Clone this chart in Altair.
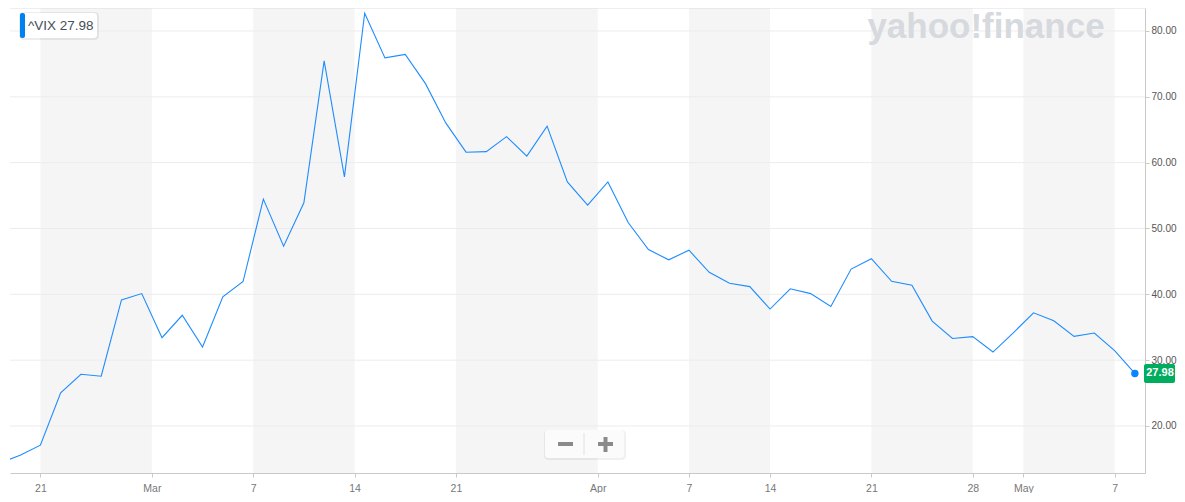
import altair as alt
import pandas as pd

# ---- data (VIX daily closes) ----
dates = [
    "2020-02-19", "2020-02-20", "2020-02-21", "2020-02-24", "2020-02-25",
    "2020-02-26", "2020-02-27", "2020-02-28", "2020-03-02", "2020-03-03",
    "2020-03-04", "2020-03-05", "2020-03-06", "2020-03-09", "2020-03-10",
    "2020-03-11", "2020-03-12", "2020-03-13", "2020-03-16", "2020-03-17",
    "2020-03-18", "2020-03-19", "2020-03-20", "2020-03-23", "2020-03-24",
    "2020-03-25", "2020-03-26", "2020-03-27", "2020-03-30", "2020-03-31",
    "2020-04-01", "2020-04-02", "2020-04-03", "2020-04-06", "2020-04-07",
    "2020-04-08", "2020-04-09", "2020-04-13", "2020-04-14", "2020-04-15",
    "2020-04-16", "2020-04-17", "2020-04-20", "2020-04-21", "2020-04-22",
    "2020-04-23", "2020-04-24", "2020-04-27", "2020-04-28", "2020-04-29",
    "2020-04-30", "2020-05-01", "2020-05-04", "2020-05-05", "2020-05-06",
    "2020-05-07", "2020-05-08",
]
vix = [
    14.38, 15.56, 17.08, 25.03, 27.85,
    27.56, 39.16, 40.11, 33.42, 36.82,
    31.99, 39.62, 41.94, 54.46, 47.30,
    53.90, 75.47, 57.83, 82.69, 75.91,
    76.45, 72.00, 66.04, 61.59, 61.67,
    63.95, 61.00, 65.54, 57.08, 53.54,
    57.06, 50.91, 46.80, 45.24, 46.70,
    43.35, 41.67, 41.17, 37.76, 40.84,
    40.11, 38.15, 43.83, 45.41, 41.98,
    41.38, 35.93, 33.29, 33.57, 31.23,
    34.15, 37.19, 35.97, 33.61, 34.12,
    31.44, 27.98,
]
symbol = "^VIX"
tick_dates = [
    "2020-02-21", "2020-03-01", "2020-03-07", "2020-03-14", "2020-03-21",
    "2020-04-01", "2020-04-07", "2020-04-14", "2020-04-21", "2020-04-28",
    "2020-05-01", "2020-05-07",
]
tick_labels = ["21", "Mar", "7", "14", "21", "Apr", "7", "14", "21", "28", "May", "7"]
y_ticks = [20, 30, 40, 50, 60, 70, 80]


# ---- derived tables ----
def tick_pos(d):
    # trading-day axis: a date that trades sits on its point, otherwise between sessions
    if d in dates and not d.endswith("-01"):
        return float(dates.index(d))
    return sum(1 for x in dates if x < d) - 0.5


tpos = [tick_pos(d) for d in tick_dates]
df = pd.DataFrame({"i": list(range(len(dates))), "date": dates, "vix": vix})
last = df.tail(1)
bands = pd.DataFrame({"x0": tpos[0::2], "x1": tpos[1::2]})
grid = pd.DataFrame({"v": y_ticks})

W, H = 1135, 465
xs = alt.Scale(domain=[0.5, len(dates) - 0.5], nice=False, zero=False)
ys = alt.Scale(domain=[12.86, 83.49], nice=False, zero=False)

label_expr = (
    "[" + ",".join("'%s'" % t for t in tick_labels) + "]"
    + "[indexof([" + ",".join(repr(p) for p in tpos) + "], datum.value)]"
)

FONT = "Liberation Sans"
AX = "#c9c9c9"

x_axis = alt.Axis(
    values=tpos, labelExpr=label_expr, grid=False, title=None,
    domainColor=AX, tickColor=AX, tickSize=4, labelPadding=6,
    labelColor="#777777", labelFontSize=10.5, labelFont=FONT,
    labelFlush=False, labelOverlap=False,
)
y_axis = alt.Axis(
    orient="right", values=y_ticks, format=".2f", grid=False, title=None,
    domainColor=AX, tickColor=AX, tickSize=4, labelPadding=2,
    labelColor="#555555", labelFontSize=10, labelFont=FONT,
)

band_layer = alt.Chart(bands).mark_rect(color="#f5f5f5").encode(
    x=alt.X("x0:Q", scale=xs, axis=x_axis), x2="x1:Q",
    y=alt.value(0), y2=alt.value(H),
)
grid_layer = alt.Chart(grid).mark_rule(color="#ececec", strokeWidth=1).encode(
    y=alt.Y("v:Q", scale=ys, axis=y_axis)
)
top_line = alt.Chart(grid.head(1)).mark_rule(color="#dddbe7", strokeWidth=1).encode(
    y=alt.value(0)
)

watermark = alt.Chart(pd.DataFrame({"t": ["yahoo!finance"]})).mark_text(
    font=FONT, fontSize=35, fontWeight="bold", color="#d6d9de",
    align="center", baseline="alphabetic",
).encode(x=alt.value(976), y=alt.value(30), text="t:N")

line = alt.Chart(df).mark_line(color="#1e8cff", strokeWidth=1.1, clip=True).encode(
    x=alt.X("i:Q", scale=xs, axis=x_axis),
    y=alt.Y("vix:Q", scale=ys, axis=y_axis),
)
dot = alt.Chart(last).mark_point(filled=True, size=55, color="#0a84ff", opacity=1).encode(
    x=alt.X("i:Q", scale=xs, axis=x_axis), y=alt.Y("vix:Q", scale=ys, axis=y_axis)
)
badge = alt.Chart(last).mark_rect(color="#00ad5f", cornerRadius=2, yOffset=-9.5, y2Offset=9.5).encode(
    x=alt.value(1134), x2=alt.value(1165),
    y=alt.Y("vix:Q", scale=ys, axis=y_axis), y2="vix:Q",
)
badge_text = alt.Chart(last).mark_text(
    color="white", font=FONT, fontSize=11, fontWeight="bold", align="center", baseline="middle"
).encode(x=alt.value(1150), y=alt.Y("vix:Q", scale=ys, axis=y_axis),
         text=alt.Text("vix:Q", format=".2f"))

# legend chip (top-left)
one = pd.DataFrame({"t": ["%s %.2f" % (symbol, vix[-1])]})
chip_shadow = alt.Chart(one).mark_rect(color="#000000", opacity=0.07, cornerRadius=4).encode(
    x=alt.value(9), x2=alt.value(89), y=alt.value(4), y2=alt.value(32)
)
chip_box = alt.Chart(one).mark_rect(color="white", cornerRadius=3).encode(
    x=alt.value(10), x2=alt.value(87), y=alt.value(5), y2=alt.value(30)
)
chip_bar = alt.Chart(one).mark_rect(color="#0081f2", cornerRadius=2).encode(
    x=alt.value(10), x2=alt.value(15), y=alt.value(5), y2=alt.value(30)
)
chip_text = alt.Chart(one).mark_text(
    font=FONT, fontSize=13.5, color="#464e56", align="left", baseline="middle"
).encode(x=alt.value(18), y=alt.value(18), text="t:N")

# zoom control (bottom centre)
zoom_shadow = alt.Chart(one).mark_rect(color="#000000", opacity=0.06, cornerRadius=4).encode(
    x=alt.value(534), x2=alt.value(616), y=alt.value(422), y2=alt.value(452)
)
zoom_box = alt.Chart(one).mark_rect(color="#fbfbfb", cornerRadius=3).encode(
    x=alt.value(535), x2=alt.value(614), y=alt.value(422), y2=alt.value(450)
)
zoom_div = alt.Chart(one).mark_rule(color="#e2e2e2").encode(
    x=alt.value(574), y=alt.value(425), y2=alt.value(447)
)
minus = alt.Chart(one).mark_rule(color="#8a8a8a", strokeWidth=4).encode(
    x=alt.value(548), x2=alt.value(563), y=alt.value(436)
)
plus_h = alt.Chart(one).mark_rule(color="#8a8a8a", strokeWidth=4).encode(
    x=alt.value(588), x2=alt.value(603), y=alt.value(436)
)
plus_v = alt.Chart(one).mark_rule(color="#8a8a8a", strokeWidth=4).encode(
    x=alt.value(595.5), y=alt.value(429), y2=alt.value(444)
)

chart = alt.layer(
    band_layer, grid_layer, top_line, watermark, line, dot, badge, badge_text,
    chip_shadow, chip_box, chip_bar, chip_text,
    zoom_shadow, zoom_box, zoom_div, minus, plus_h, plus_v,
).properties(
    width=W, height=H,
    padding={"left": 2, "top": 0, "right": 32, "bottom": 20},
    autosize=alt.AutoSizeParams(type="none"),
    background="white",
).configure_view(stroke=None)

chart.save("out.html", embed_options={"renderer": "svg", "actions": False})
